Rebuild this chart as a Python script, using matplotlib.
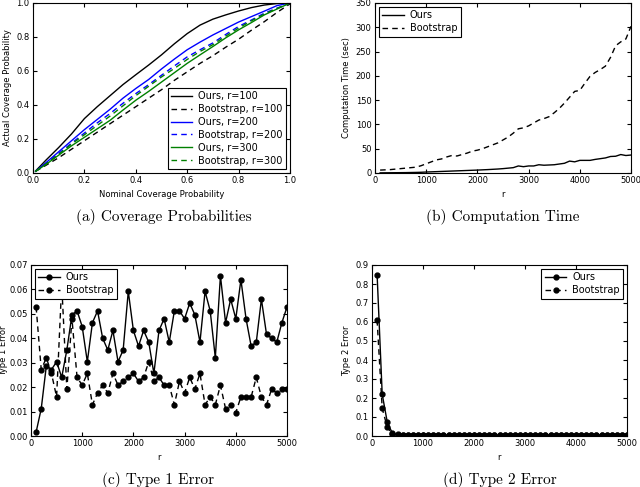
import matplotlib
matplotlib.use("Agg")
import matplotlib.pyplot as plt
import numpy as np

# ---------------- data ----------------
nominal = [0.01, 0.05, 0.10, 0.15, 0.20, 0.25, 0.30, 0.35, 0.40, 0.45, 0.50,
           0.55, 0.60, 0.65, 0.70, 0.75, 0.80, 0.85, 0.90, 0.95, 1.00]
ours_r100 = [0.012, 0.075, 0.15, 0.23, 0.32, 0.39, 0.455, 0.52, 0.578, 0.635, 0.695,
             0.76, 0.82, 0.87, 0.905, 0.93, 0.953, 0.973, 0.988, 0.997, 1.0]
boot_r100 = [0.01, 0.045, 0.09, 0.14, 0.19, 0.24, 0.29, 0.34, 0.39, 0.44, 0.49,
             0.545, 0.595, 0.645, 0.69, 0.74, 0.787, 0.84, 0.89, 0.945, 0.995]
ours_r200 = [0.01, 0.06, 0.125, 0.19, 0.255, 0.315, 0.375, 0.44, 0.497, 0.55, 0.612,
             0.67, 0.725, 0.77, 0.812, 0.85, 0.888, 0.92, 0.952, 0.985, 1.0]
boot_r200 = [0.01, 0.055, 0.115, 0.175, 0.235, 0.295, 0.35, 0.41, 0.467, 0.52, 0.575,
             0.63, 0.683, 0.725, 0.765, 0.815, 0.862, 0.9, 0.94, 0.97, 1.0]
ours_r300 = [0.01, 0.05, 0.105, 0.16, 0.21, 0.26, 0.31, 0.37, 0.428, 0.48, 0.535,
             0.59, 0.645, 0.695, 0.744, 0.795, 0.842, 0.885, 0.93, 0.965, 1.0]
boot_r300 = [0.01, 0.052, 0.11, 0.17, 0.225, 0.28, 0.335, 0.395, 0.455, 0.51, 0.565,
             0.615, 0.668, 0.715, 0.755, 0.805, 0.852, 0.895, 0.935, 0.968, 1.0]

r_vals = list(range(100, 5001, 100))

time_ours = [0.3, 0.4, 0.5, 0.6, 0.7, 0.8, 1.0, 1.2, 1.5, 2.0,
             2.4, 2.8, 3.2, 3.6, 4.0, 4.4, 4.8, 5.2, 5.6, 6.0,
             6.5, 7.0, 7.6, 8.2, 9.0, 10.0, 11.0, 14.5, 13.0, 14.5,
             14.5, 17.0, 16.0, 16.5, 17.0, 18.5, 20.0, 24.5, 23.0, 26.0,
             26.0, 26.0, 28.0, 29.5, 31.0, 34.0, 34.5, 38.0, 36.0, 37.0]
time_boot = [6, 6.5, 7, 8, 9, 10, 11, 12, 15, 19,
             23, 27, 29, 33, 36, 35, 38, 41, 45, 47,
             50, 54, 58, 62, 68, 74, 82, 91, 93, 97,
             103, 109, 112, 116, 124, 133, 144, 156, 168, 170,
             185, 199, 207, 213, 220, 238, 262, 270, 276, 302]

type1_ours = [0.0016, 0.0112, 0.0288, 0.0272, 0.0304, 0.0240, 0.0352, 0.0496, 0.0512, 0.0448,
              0.0304, 0.0464, 0.0512, 0.0400, 0.0352, 0.0432, 0.0304, 0.0352, 0.0592, 0.0432,
              0.0368, 0.0432, 0.0384, 0.0256, 0.0432, 0.0480, 0.0384, 0.0512, 0.0512, 0.0480,
              0.0544, 0.0496, 0.0384, 0.0592, 0.0512, 0.0320, 0.0656, 0.0464, 0.0560, 0.0480,
              0.0640, 0.0480, 0.0368, 0.0384, 0.0560, 0.0416, 0.0400, 0.0384, 0.0464, 0.0528]
type1_boot = [0.0528, 0.0272, 0.0320, 0.0256, 0.0160, 0.0620, 0.0192, 0.0480, 0.0240, 0.0208,
              0.0256, 0.0128, 0.0176, 0.0208, 0.0176, 0.0256, 0.0208, 0.0224, 0.0240, 0.0256,
              0.0224, 0.0240, 0.0304, 0.0224, 0.0240, 0.0208, 0.0208, 0.0128, 0.0224, 0.0176,
              0.0240, 0.0192, 0.0256, 0.0128, 0.0160, 0.0128, 0.0208, 0.0112, 0.0128, 0.0096,
              0.0160, 0.0160, 0.0160, 0.0240, 0.0160, 0.0128, 0.0192, 0.0176, 0.0192, 0.0192]

type2_ours = [0.85, 0.22, 0.072, 0.014, 0.008, 0.006, 0.006, 0.005, 0.005, 0.005,
              0.005, 0.005, 0.005, 0.005, 0.005, 0.005, 0.005, 0.005, 0.005, 0.005,
              0.005, 0.005, 0.005, 0.005, 0.005, 0.005, 0.005, 0.005, 0.005, 0.005,
              0.005, 0.005, 0.005, 0.005, 0.005, 0.005, 0.005, 0.005, 0.005, 0.005,
              0.005, 0.005, 0.005, 0.005, 0.005, 0.005, 0.005, 0.005, 0.005, 0.005]
type2_boot = [0.61, 0.145, 0.046, 0.010, 0.006, 0.004, 0.004, 0.003, 0.003, 0.003,
              0.003, 0.003, 0.003, 0.003, 0.003, 0.003, 0.003, 0.003, 0.003, 0.003,
              0.003, 0.003, 0.003, 0.003, 0.003, 0.003, 0.003, 0.003, 0.003, 0.003,
              0.003, 0.003, 0.003, 0.003, 0.003, 0.003, 0.003, 0.003, 0.003, 0.003,
              0.003, 0.003, 0.003, 0.003, 0.003, 0.003, 0.003, 0.003, 0.003, 0.003]

# ---------------- style ----------------
plt.rcParams['font.family'] = ['DejaVu Sans']
plt.rcParams['xtick.direction'] = 'in'
plt.rcParams['ytick.direction'] = 'in'
plt.rcParams['xtick.top'] = True
plt.rcParams['ytick.right'] = True
plt.rcParams['xtick.labelsize'] = 6
plt.rcParams['ytick.labelsize'] = 6
plt.rcParams['xtick.major.size'] = 3
plt.rcParams['ytick.major.size'] = 3
plt.rcParams['xtick.major.pad'] = 2.5
plt.rcParams['ytick.major.pad'] = 2.5
plt.rcParams['axes.linewidth'] = 0.8
plt.rcParams['axes.labelsize'] = 6
plt.rcParams['axes.labelpad'] = 3
plt.rcParams['legend.fancybox'] = False
plt.rcParams['legend.edgecolor'] = 'black'
plt.rcParams['legend.framealpha'] = 1.0
plt.rcParams['legend.numpoints'] = 1
plt.rcParams['patch.linewidth'] = 0.8

DASH = (4, 3)
LEG = dict(fontsize=7, labelspacing=0.3, handlelength=2.2, borderaxespad=0.4,
           borderpad=0.35, handletextpad=0.6)

fig = plt.figure(figsize=(6.4, 4.87), dpi=100)
W, H = 640.0, 487.0

def ax_px(x0, y0, x1, y1):
    return fig.add_axes([x0 / W, 1 - y1 / H, (x1 - x0) / W, (y1 - y0) / H])

# (a)
ax = ax_px(33, 3, 290, 173)
ax.plot(nominal, ours_r100, color='k', lw=1, label='Ours, r=100')
ax.plot(nominal, boot_r100, color='k', lw=1, dashes=DASH, label='Bootstrap, r=100')
ax.plot(nominal, ours_r200, color='b', lw=1, label='Ours, r=200')
ax.plot(nominal, boot_r200, color='b', lw=1, dashes=DASH, label='Bootstrap, r=200')
ax.plot(nominal, ours_r300, color='g', lw=1, label='Ours, r=300')
ax.plot(nominal, boot_r300, color='g', lw=1, dashes=DASH, label='Bootstrap, r=300')
ax.set_xlim(0, 1)
ax.set_ylim(0, 1)
ax.set_xticks(np.arange(0, 1.01, 0.2))
ax.set_yticks(np.arange(0, 1.01, 0.2))
ax.xaxis.set_major_formatter(matplotlib.ticker.FormatStrFormatter('%.1f'))
ax.yaxis.set_major_formatter(matplotlib.ticker.FormatStrFormatter('%.1f'))
ax.set_xlabel('Nominal Coverage Probability')
ax.set_ylabel('Actual Coverage Probability')
ax.legend(loc='lower right', **LEG)

# (b)
ax = ax_px(375, 3, 631, 173)
ax.plot(r_vals, time_ours, color='k', lw=1, label='Ours')
ax.plot(r_vals, time_boot, color='k', lw=1, dashes=DASH, label='Bootstrap')
ax.set_xlim(0, 5000)
ax.set_ylim(0, 350)
ax.set_xticks(range(0, 5001, 1000))
ax.set_yticks(range(0, 351, 50))
ax.set_xlabel('r')
ax.set_ylabel('Computation Time (sec)')
ax.legend(loc='upper left', **LEG)

# (c)
ax = ax_px(31, 265, 287, 436)
ax.plot(r_vals, type1_ours, color='k', lw=1, marker='o', ms=3.5, label='Ours')
ax.plot(r_vals, type1_boot, color='k', lw=1, dashes=DASH, marker='o', ms=3.5, label='Bootstrap')
ax.set_xlim(0, 5000)
ax.set_ylim(0, 0.07)
ax.set_xticks(range(0, 5001, 1000))
ax.set_yticks(np.arange(0, 0.0701, 0.01))
ax.yaxis.set_major_formatter(matplotlib.ticker.FormatStrFormatter('%.2f'))
ax.set_xlabel('r')
ax.set_ylabel('Type 1 Error', labelpad=1)
ax.legend(loc='upper left', **LEG)

# (d)
ax = ax_px(372, 265, 627, 436)
ax.plot(r_vals, type2_ours, color='k', lw=1, marker='o', ms=3.5, label='Ours')
ax.plot(r_vals, type2_boot, color='k', lw=1, dashes=DASH, marker='o', ms=3.5, label='Bootstrap')
ax.set_xlim(0, 5000)
ax.set_ylim(0, 0.9)
ax.set_xticks(range(0, 5001, 1000))
ax.set_yticks(np.arange(0, 0.901, 0.1))
ax.yaxis.set_major_formatter(matplotlib.ticker.FormatStrFormatter('%.1f'))
ax.set_xlabel('r')
ax.set_ylabel('Type 2 Error')
ax.legend(loc='upper right', **LEG)

# captions
cap = dict(fontsize=11, family='cmr10', ha='center', va='center')
fig.text(164 / W, 1 - 217 / H, '(a) Coverage Probabilities', **cap)
fig.text(503 / W, 1 - 217 / H, '(b) Computation Time', **cap)
fig.text(158 / W, 1 - 480 / H, '(c) Type 1 Error', **cap)
fig.text(500 / W, 1 - 480 / H, '(d) Type 2 Error', **cap)

fig.savefig('out.png', dpi=100, facecolor='white')
